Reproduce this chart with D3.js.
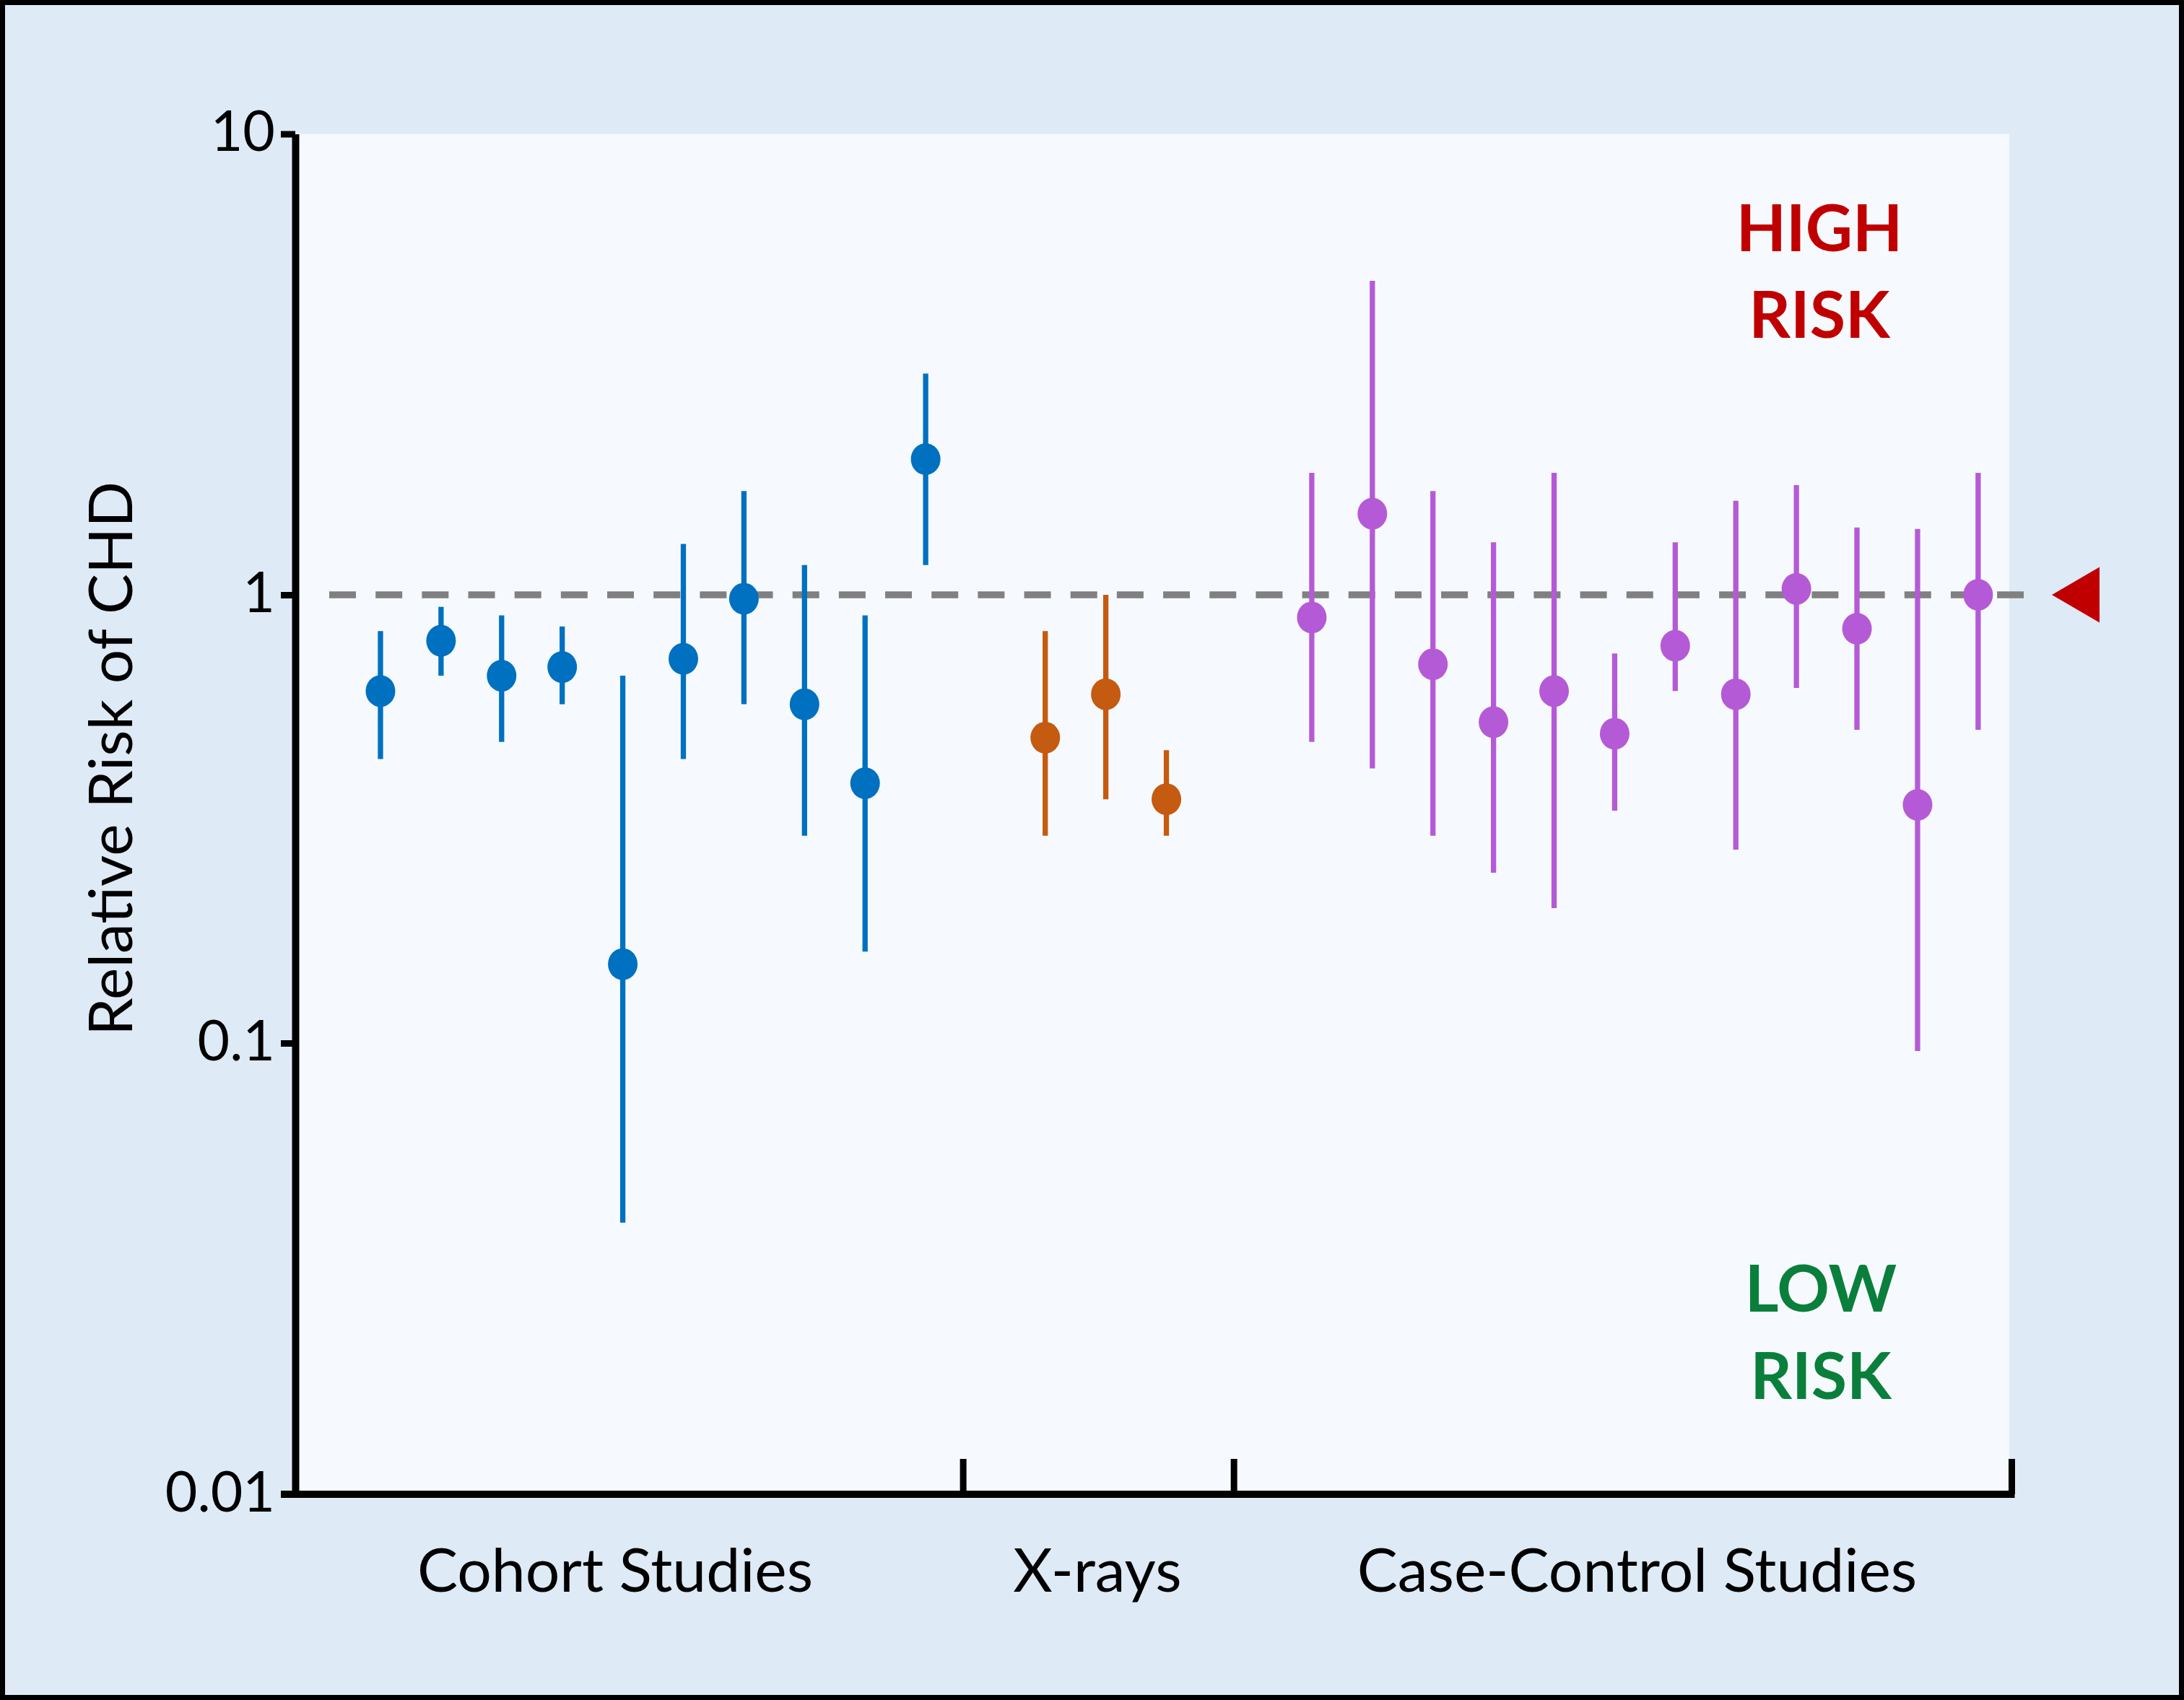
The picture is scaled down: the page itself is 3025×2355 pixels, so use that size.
<!DOCTYPE html>
<html>
<head>
<meta charset="utf-8">
<script src="https://cdn.jsdelivr.net/npm/d3@7"></script>
<style>
  html, body { margin: 0; padding: 0; background: #ffffff; }
  svg { display: block; }
</style>
</head>
<body>
<svg id="chart" width="3025" height="2355"></svg>
<script>
// ---------------- DATA ----------------
const groups = ["Cohort Studies", "X-rays", "Case-Control Studies"];

const cohortRR = [0.61, 0.79, 0.66, 0.69, 0.15, 0.72, 0.98, 0.57, 0.38, 1.97];
const cohortLo = [0.43, 0.66, 0.47, 0.57, 0.04, 0.43, 0.57, 0.29, 0.16, 1.16];
const cohortHi = [0.83, 0.94, 0.90, 0.85, 0.66, 1.29, 1.68, 1.16, 0.90, 3.02];

const xrayRR = [0.48, 0.60, 0.35];
const xrayLo = [0.29, 0.35, 0.29];
const xrayHi = [0.83, 1.00, 0.45];

const ccRR = [0.89, 1.50, 0.70, 0.52, 0.61, 0.49, 0.77, 0.60, 1.03, 0.84, 0.34, 1.00];
const ccLo = [0.47, 0.41, 0.29, 0.24, 0.20, 0.33, 0.61, 0.27, 0.62, 0.50, 0.096, 0.50];
const ccHi = [1.84, 4.80, 1.68, 1.30, 1.84, 0.74, 1.30, 1.60, 1.73, 1.40, 1.39, 1.84];

const yTicks = [0.01, 0.1, 1, 10];
const yTickLabels = ["0.01", "0.1", "1", "10"];
const referenceRR = 1;
const yTitle = "Relative Risk of CHD";
const highLabel = ["HIGH", "RISK"];
const lowLabel = ["LOW", "RISK"];

// ---------------- LAYOUT ----------------
const W = 3025, H = 2355;
const colors = ["#0070C0", "#C55A11", "#B55AD7"];
const font = "Lato, 'Open Sans', sans-serif";

// slot layout (in study-slot units along the x axis)
const groupStart = [1.406, 12.38, 16.78];
const separators = [11.02, 15.49, 28.33];
const labelCenters = [5.28, 13.24, 22.15];
const slotMax = 28.33;

const x = d3.scaleLinear().domain([0, slotMax]).range([409, 2786]);
const y = d3.scaleLog().domain([0.01, 0.1, 1, 10]).range([2070, 1445, 824, 185.5]);

const svg = d3.select("#chart");

// outer background + border
svg.append("rect").attr("x", 0).attr("y", 0).attr("width", W).attr("height", H)
  .attr("fill", "#DEEAF6");
svg.append("rect").attr("x", 3.5).attr("y", 3.5).attr("width", W - 7).attr("height", H - 7)
  .attr("fill", "none").attr("stroke", "#000").attr("stroke-width", 7);

// inner plot area
svg.append("rect")
  .attr("x", x(0)).attr("y", y(10))
  .attr("width", x(slotMax) - x(0) - 3).attr("height", y(0.01) - y(10))
  .attr("fill", "#F6FAFE");

// reference dashed line at RR = 1
svg.append("line")
  .attr("x1", 456).attr("x2", 2803)
  .attr("y1", y(referenceRR)).attr("y2", y(referenceRR))
  .attr("stroke", "#808080").attr("stroke-width", 9.5)
  .attr("stroke-dasharray", "37 27.17");

// red triangle marker at RR = 1
const ty = y(referenceRR);
svg.append("path")
  .attr("d", `M2842,${ty} L2908,${ty - 38.5} L2908,${ty + 38.5} Z`)
  .attr("fill", "#C00000");

// data points
const series = [
  { rr: cohortRR, lo: cohortLo, hi: cohortHi },
  { rr: xrayRR, lo: xrayLo, hi: xrayHi },
  { rr: ccRR, lo: ccLo, hi: ccHi }
];

series.forEach((s, g) => {
  const data = s.rr.map((v, i) => ({ slot: groupStart[g] + i, rr: v, lo: s.lo[i], hi: s.hi[i] }));
  const gg = svg.append("g");
  gg.selectAll("line.ci").data(data).join("line")
    .attr("class", "ci")
    .attr("x1", d => x(d.slot)).attr("x2", d => x(d.slot))
    .attr("y1", d => y(d.lo)).attr("y2", d => y(d.hi))
    .attr("stroke", colors[g]).attr("stroke-width", 7.3);
  gg.selectAll("ellipse").data(data).join("ellipse")
    .attr("cx", d => x(d.slot)).attr("cy", d => y(d.rr))
    .attr("rx", 20.5).attr("ry", 22)
    .attr("fill", colors[g]);
});

// y axis
const yAxis = d3.axisLeft(y)
  .tickValues(yTicks)
  .tickFormat((d, i) => yTickLabels[i])
  .tickSize(20).tickSizeOuter(0).tickPadding(8);
const yg = svg.append("g").attr("transform", `translate(${x(0)},0)`).call(yAxis);
yg.select(".domain").attr("stroke", "#000").attr("stroke-width", 10);
yg.selectAll(".tick line").attr("stroke", "#000").attr("stroke-width", 9);
yg.selectAll(".tick text")
  .attr("font-family", font).attr("font-size", 77).attr("fill", "#000")
  .attr("dy", "0.30em");

// x axis (group separators as inward ticks)
const xAxis = d3.axisBottom(x)
  .tickValues(separators)
  .tickFormat("")
  .tickSize(-49).tickSizeOuter(0);
const xg = svg.append("g").attr("transform", `translate(0,${y(0.01)})`).call(xAxis);
xg.select(".domain").attr("stroke", "#000").attr("stroke-width", 10)
  .attr("d", `M${x(0) - 20},0H${x(slotMax) + 4.5}`);
xg.selectAll(".tick line").attr("stroke", "#000").attr("stroke-width", 9);

// group labels
svg.append("g").selectAll("text").data(groups).join("text")
  .attr("x", (d, i) => x(labelCenters[i]))
  .attr("y", 2205)
  .attr("text-anchor", "middle")
  .attr("font-family", font).attr("font-size", 84).attr("fill", "#000")
  .text(d => d);

// y axis title
svg.append("text")
  .attr("transform", `translate(183,1051) rotate(-90)`)
  .attr("text-anchor", "middle")
  .attr("font-family", font).attr("font-size", 84).attr("fill", "#000")
  .text(yTitle);

// HIGH / LOW RISK annotations
svg.append("g").selectAll("text").data(highLabel).join("text")
  .attr("x", 2520).attr("y", (d, i) => 348 + i * 120)
  .attr("text-anchor", "middle")
  .attr("font-family", font).attr("font-weight", 700).attr("font-size", 90)
  .attr("fill", "#C00000")
  .text(d => d);

svg.append("g").selectAll("text").data(lowLabel).join("text")
  .attr("x", 2522).attr("y", (d, i) => 1817 + i * 121)
  .attr("text-anchor", "middle")
  .attr("font-family", font).attr("font-weight", 700).attr("font-size", 90)
  .attr("fill", "#0A7F3B")
  .text(d => d);
</script>
</body>
</html>
